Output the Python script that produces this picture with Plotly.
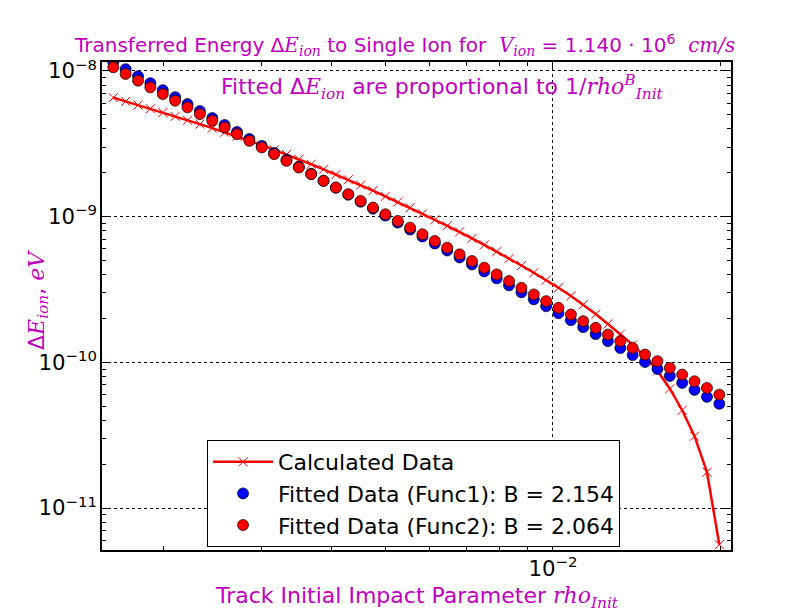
import plotly.graph_objects as go

# Track initial impact parameter rho_Init (x)
rho_init = [
    1.624e-3, 1.709e-3, 1.799e-3, 1.893e-3, 1.993e-3, 2.097e-3, 2.207e-3, 2.323e-3, 2.445e-3, 2.573e-3,
    2.708e-3, 2.850e-3, 3.000e-3, 3.157e-3, 3.323e-3, 3.497e-3, 3.680e-3, 3.873e-3, 4.076e-3, 4.290e-3,
    4.515e-3, 4.752e-3, 5.001e-3, 5.264e-3, 5.540e-3, 5.830e-3, 6.136e-3, 6.458e-3, 6.797e-3, 7.153e-3,
    7.529e-3, 7.924e-3, 8.339e-3, 8.777e-3, 9.237e-3, 9.721e-3, 1.023e-2, 1.077e-2, 1.133e-2, 1.193e-2,
    1.255e-2, 1.321e-2, 1.390e-2, 1.463e-2, 1.540e-2, 1.621e-2, 1.706e-2, 1.795e-2, 1.890e-2, 1.989e-2,
]

# Calculated transferred energy (eV)
de_calc = [
    6.559e-9, 6.187e-9, 5.836e-9, 5.505e-9, 5.184e-9, 4.882e-9, 4.591e-9, 4.316e-9, 4.052e-9, 3.798e-9,
    3.554e-9, 3.321e-9, 3.098e-9, 2.876e-9, 2.671e-9, 2.476e-9, 2.291e-9, 2.114e-9, 1.947e-9, 1.794e-9,
    1.647e-9, 1.508e-9, 1.380e-9, 1.261e-9, 1.151e-9, 1.047e-9, 9.522e-10, 8.648e-10, 7.866e-10, 7.099e-10,
    6.396e-10, 5.754e-10, 5.160e-10, 4.620e-10, 4.123e-10, 3.668e-10, 3.253e-10, 2.858e-10, 2.488e-10, 2.144e-10,
    1.834e-10, 1.559e-10, 1.320e-10, 1.093e-10, 8.758e-11, 6.591e-11, 4.693e-11, 3.113e-11, 1.763e-11, 5.610e-12,
]

# Fitted data, Func1 (B = 2.154)
de_fit1 = [
    1.147e-8, 1.028e-8, 9.205e-9, 8.245e-9, 7.385e-9, 6.615e-9, 5.925e-9, 5.307e-9, 4.753e-9, 4.257e-9,
    3.813e-9, 3.416e-9, 3.059e-9, 2.740e-9, 2.454e-9, 2.198e-9, 1.969e-9, 1.764e-9, 1.580e-9, 1.415e-9,
    1.267e-9, 1.135e-9, 1.017e-9, 9.107e-10, 8.157e-10, 7.306e-10, 6.544e-10, 5.861e-10, 5.250e-10, 4.703e-10,
    4.212e-10, 3.773e-10, 3.379e-10, 3.027e-10, 2.711e-10, 2.428e-10, 2.175e-10, 1.948e-10, 1.745e-10, 1.563e-10,
    1.400e-10, 1.254e-10, 1.123e-10, 1.006e-10, 9.010e-11, 8.070e-11, 7.229e-11, 6.475e-11, 5.799e-11, 5.195e-11,
]

# Fitted data, Func2 (B = 2.064)
de_fit2 = [
    1.060e-8, 9.540e-9, 8.584e-9, 7.724e-9, 6.950e-9, 6.253e-9, 5.627e-9, 5.063e-9, 4.555e-9, 4.099e-9,
    3.688e-9, 3.318e-9, 2.986e-9, 2.687e-9, 2.418e-9, 2.175e-9, 1.957e-9, 1.761e-9, 1.585e-9, 1.426e-9,
    1.283e-9, 1.154e-9, 1.039e-9, 9.346e-10, 8.409e-10, 7.567e-10, 6.808e-10, 6.126e-10, 5.512e-10, 4.960e-10,
    4.463e-10, 4.016e-10, 3.613e-10, 3.251e-10, 2.925e-10, 2.632e-10, 2.368e-10, 2.131e-10, 1.917e-10, 1.725e-10,
    1.552e-10, 1.397e-10, 1.257e-10, 1.131e-10, 1.018e-10, 9.156e-11, 8.239e-11, 7.413e-11, 6.670e-11, 6.001e-11,
]

B1 = 2.154
B2 = 2.064

MAG = "#BF00BF"
FONT = "DejaVu Sans"


def m(s):
    """math-style italic serif span"""
    return f"<span style='font-family:\"DejaVu Serif\"'><i>{s}</i></span>"


fig = go.Figure()

fig.add_trace(go.Scatter(
    x=rho_init, y=de_calc, mode="lines+markers", name="Calculated Data",
    line=dict(color="#FF0000", width=2.5),
    marker=dict(symbol="x-thin", size=9, color="#FF0000", line=dict(width=1, color="#FF0000")),
))
fig.add_trace(go.Scatter(
    x=rho_init, y=de_fit1, mode="markers", name=f"Fitted Data (Func1): B = {B1:.3f}",
    marker=dict(symbol="circle", size=11, color="#0000FF", line=dict(width=0.7, color="black")),
))
fig.add_trace(go.Scatter(
    x=rho_init, y=de_fit2, mode="markers", name=f"Fitted Data (Func2): B = {B2:.3f}",
    marker=dict(symbol="circle", size=11, color="#FF0000", line=dict(width=0.7, color="black")),
))

axis_common = dict(
    type="log", dtick=1, exponentformat="power", showexponent="all",
    showline=True, linecolor="black", linewidth=1.5, mirror="allticks",
    ticks="inside", ticklen=8, tickwidth=1, tickcolor="black",
    showgrid=True, gridcolor="black", gridwidth=1, griddash="dot",
    zeroline=False,
    tickfont=dict(family=FONT, size=17, color="black"),
    minor=dict(ticks="inside", ticklen=4, tickwidth=1, tickcolor="black", showgrid=False),
)

fig.update_xaxes(range=[-2.8097, -1.6804], **axis_common)
fig.update_yaxes(range=[-11.288, -7.9383], **axis_common)

fig.update_layout(
    width=804, height=604,
    margin=dict(l=94, r=81, t=54, b=62),
    paper_bgcolor="white", plot_bgcolor="white",
    font=dict(family=FONT, color="black"),
    title=dict(
        text="Transferred Energy Δ" + m("E") + "<sub>" + m("ion") + "</sub> to Single Ion for  "
             + m("V") + "<sub>" + m("ion") + "</sub> = 1.140 · 10<sup>6</sup>  " + m("cm/s"),
        font=dict(family=FONT, size=20, color=MAG),
        x=0.482, xref="paper", xanchor="center",
        y=1 - 37 / 604, yref="container", yanchor="middle",
    ),
    legend=dict(
        x=0.167, y=0.2254, xanchor="left", yanchor="top",
        bgcolor="white", bordercolor="black", borderwidth=1,
        font=dict(family=FONT, size=22, color="black"),
        itemwidth=60,
    ),
    showlegend=True,
)

fig.add_annotation(
    text="Fitted Δ" + m("E") + "<sub>" + m("ion") + "</sub> are proportional to 1/" + m("rho")
         + "<sup>" + m("B") + "</sup><sub>" + m("Init") + "</sub>",
    xref="paper", yref="paper", x=0.542, y=0.949, xanchor="center", yanchor="middle",
    showarrow=False, font=dict(family=FONT, size=22, color=MAG),
)
fig.add_annotation(
    text="Track Initial Impact Parameter " + m("rho") + "<sub>" + m("Init") + "</sub>",
    xref="paper", yref="paper", x=0.5, y=-0.098, xanchor="center", yanchor="middle",
    showarrow=False, font=dict(family=FONT, size=22, color=MAG),
)
fig.add_annotation(
    text="Δ" + m("E") + "<sub>" + m("ion") + "</sub>, " + m("eV"),
    xref="paper", yref="paper", x=-0.102, y=0.512, xanchor="center", yanchor="middle",
    textangle=-90, showarrow=False, font=dict(family=FONT, size=22, color=MAG),
)

fig.write_html("out.html")
